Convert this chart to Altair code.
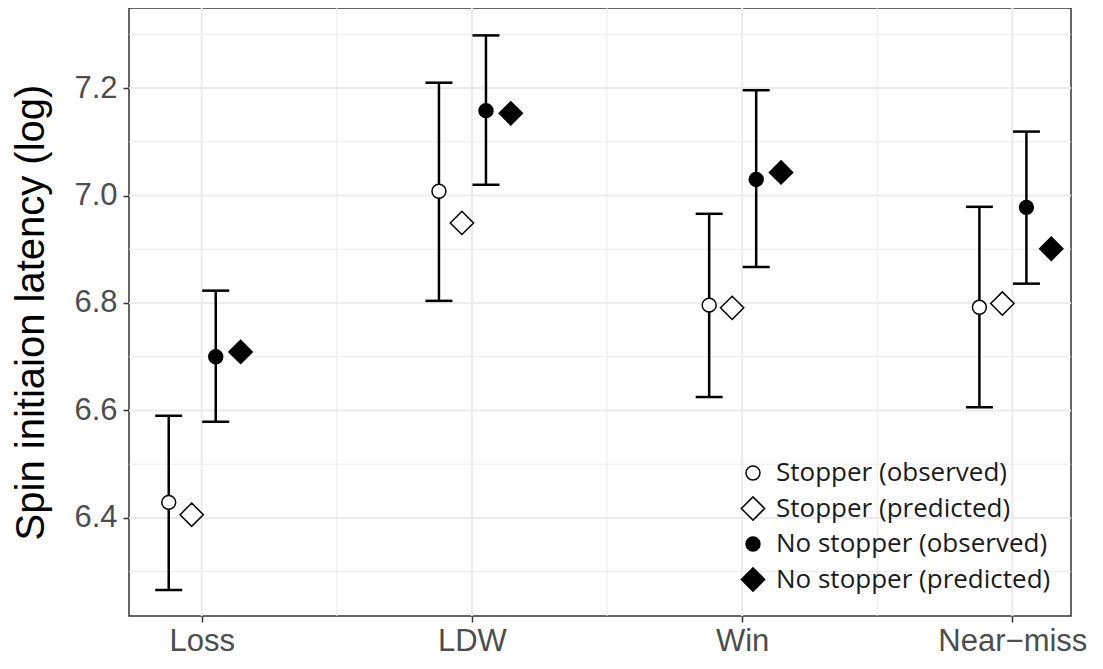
import json
import altair as alt
import pandas as pd

# ---- data ----
categories = ["Loss", "LDW", "Win", "Near\u2212miss"]
series = ["Stopper (observed)", "Stopper (predicted)",
          "No stopper (observed)", "No stopper (predicted)"]

stopper_observed = [6.429, 7.008, 6.796, 6.792]
stopper_lower = [6.266, 6.804, 6.625, 6.606]
stopper_upper = [6.590, 7.210, 6.966, 6.979]
stopper_predicted = [6.406, 6.949, 6.791, 6.799]

nostopper_observed = [6.700, 7.158, 7.030, 6.978]
nostopper_lower = [6.579, 7.020, 6.867, 6.836]
nostopper_upper = [6.823, 7.298, 7.196, 7.119]
nostopper_predicted = [6.709, 7.153, 7.043, 6.901]

dodge = [-0.122, -0.037, 0.052, 0.144]   # dodge per series (category units)
y_ticks = [6.4, 6.6, 6.8, 7.0, 7.2]
y_minor = [6.3, 6.5, 6.7, 6.9, 7.1, 7.3]
x_minor = [1.5, 2.5, 3.5]

# ---- tables ----
values_by_series = [stopper_observed, stopper_predicted, nostopper_observed, nostopper_predicted]
lower_by_series = [stopper_lower, None, nostopper_lower, None]
upper_by_series = [stopper_upper, None, nostopper_upper, None]

pts = []
bars = []
for s_i, s in enumerate(series):
    for c_i, c in enumerate(categories):
        pos = c_i + 1 + dodge[s_i]
        pts.append({"series": s, "category": c, "pos": pos, "value": values_by_series[s_i][c_i]})
        if lower_by_series[s_i] is not None:
            bars.append({"series": s, "pos": pos,
                         "value": lower_by_series[s_i][c_i], "hi": upper_by_series[s_i][c_i]})
pts = pd.DataFrame(pts)
bars = pd.DataFrame(bars)

cat_idx = list(range(1, len(categories) + 1))
vmajor = pd.DataFrame({"pos": cat_idx})
vminor = pd.DataFrame({"pos": x_minor})
hmajor = pd.DataFrame({"value": y_ticks})
hminor = pd.DataFrame({"value": y_minor})

xscale = alt.Scale(domain=[0.731, 4.217], nice=False, zero=False)
yscale = alt.Scale(domain=[6.2175, 7.349], nice=False, zero=False)

label_expr = json.dumps(categories) + "[round(datum.value) - 1]"
xaxis = alt.Axis(values=cat_idx, labelExpr=label_expr, title=None, labelPadding=4)
yaxis = alt.Axis(values=y_ticks, format=".1f", title="Spin initiaion latency (log)")

X = alt.X("pos:Q", scale=xscale, axis=xaxis)
Y = alt.Y("value:Q", scale=yscale, axis=yaxis)

grid_col = "#EBEBEB"
g1 = alt.Chart(vmajor).mark_rule(color=grid_col, strokeWidth=2).encode(x=X)
g2 = alt.Chart(vminor).mark_rule(color=grid_col, strokeWidth=1).encode(x=X)
g3 = alt.Chart(hmajor).mark_rule(color=grid_col, strokeWidth=2).encode(y=Y)
g4 = alt.Chart(hminor).mark_rule(color=grid_col, strokeWidth=1).encode(y=Y)

err = alt.Chart(bars).mark_rule(color="black", strokeWidth=2.5).encode(
    x=X, y=Y, y2="hi:Q")
cap_lo = alt.Chart(bars).mark_tick(color="black", orient="horizontal", size=27,
                                   thickness=2.5, opacity=1).encode(x=X, y=Y)
cap_hi = alt.Chart(bars).mark_tick(color="black", orient="horizontal", size=27,
                                   thickness=2.5, opacity=1).encode(
    x=X, y=alt.Y("hi:Q", scale=yscale, axis=yaxis))

# unit-size symbol paths (scaled by sqrt(size)/2)
circle_path = "M0.6,0A0.6,0.6,0,1,1,-0.6,0A0.6,0.6,0,1,1,0.6,0Z"
diamond_path = "M-1,0L0,-1L1,0L0,1Z"
sym_size = 540

legend = alt.Legend(title=None, orient="none", legendX=611, legendY=452,
                    labelFont="Open Sans", labelFontSize=26, labelColor="#1a1a1a",
                    labelLimit=0, rowPadding=7.5, labelOffset=10, padding=0,
                    symbolStrokeWidth=1.5, symbolSize=sym_size)

points = alt.Chart(pts).mark_point(strokeWidth=1.5, opacity=1, fillOpacity=1,
                                   strokeOpacity=1, size=sym_size).encode(
    x=X, y=Y,
    shape=alt.Shape("series:N", sort=series,
                    scale=alt.Scale(domain=series,
                                    range=[circle_path, diamond_path, circle_path, diamond_path]),
                    legend=legend),
    fill=alt.Fill("series:N", sort=series,
                  scale=alt.Scale(domain=series,
                                  range=["white", "white", "black", "black"]),
                  legend=legend),
    stroke=alt.Stroke("series:N", sort=series,
                      scale=alt.Scale(domain=series,
                                      range=["black", "black", "black", "black"]),
                      legend=legend),
)

chart = alt.layer(g1, g2, g3, g4, err, cap_lo, cap_hi, points).properties(
    width=942, height=608,
    autosize=alt.AutoSizeParams(type="none"),
    padding={"left": 121, "top": 0, "right": 20, "bottom": 46},
    background="white",
).configure_view(
    stroke="#333333", strokeWidth=1.5
).configure_axis(
    grid=False, domain=False,
    labelFont="Liberation Sans", labelFontSize=31, labelColor="#4D4D4D",
    tickColor="#333333", tickWidth=1.5, tickSize=6, labelPadding=6,
    titleFont="Liberation Sans", titleFontSize=40, titleFontWeight="normal",
    titleColor="black", titlePadding=22,
)

chart.save("out.html", embed_options={"renderer": "svg", "actions": False})
